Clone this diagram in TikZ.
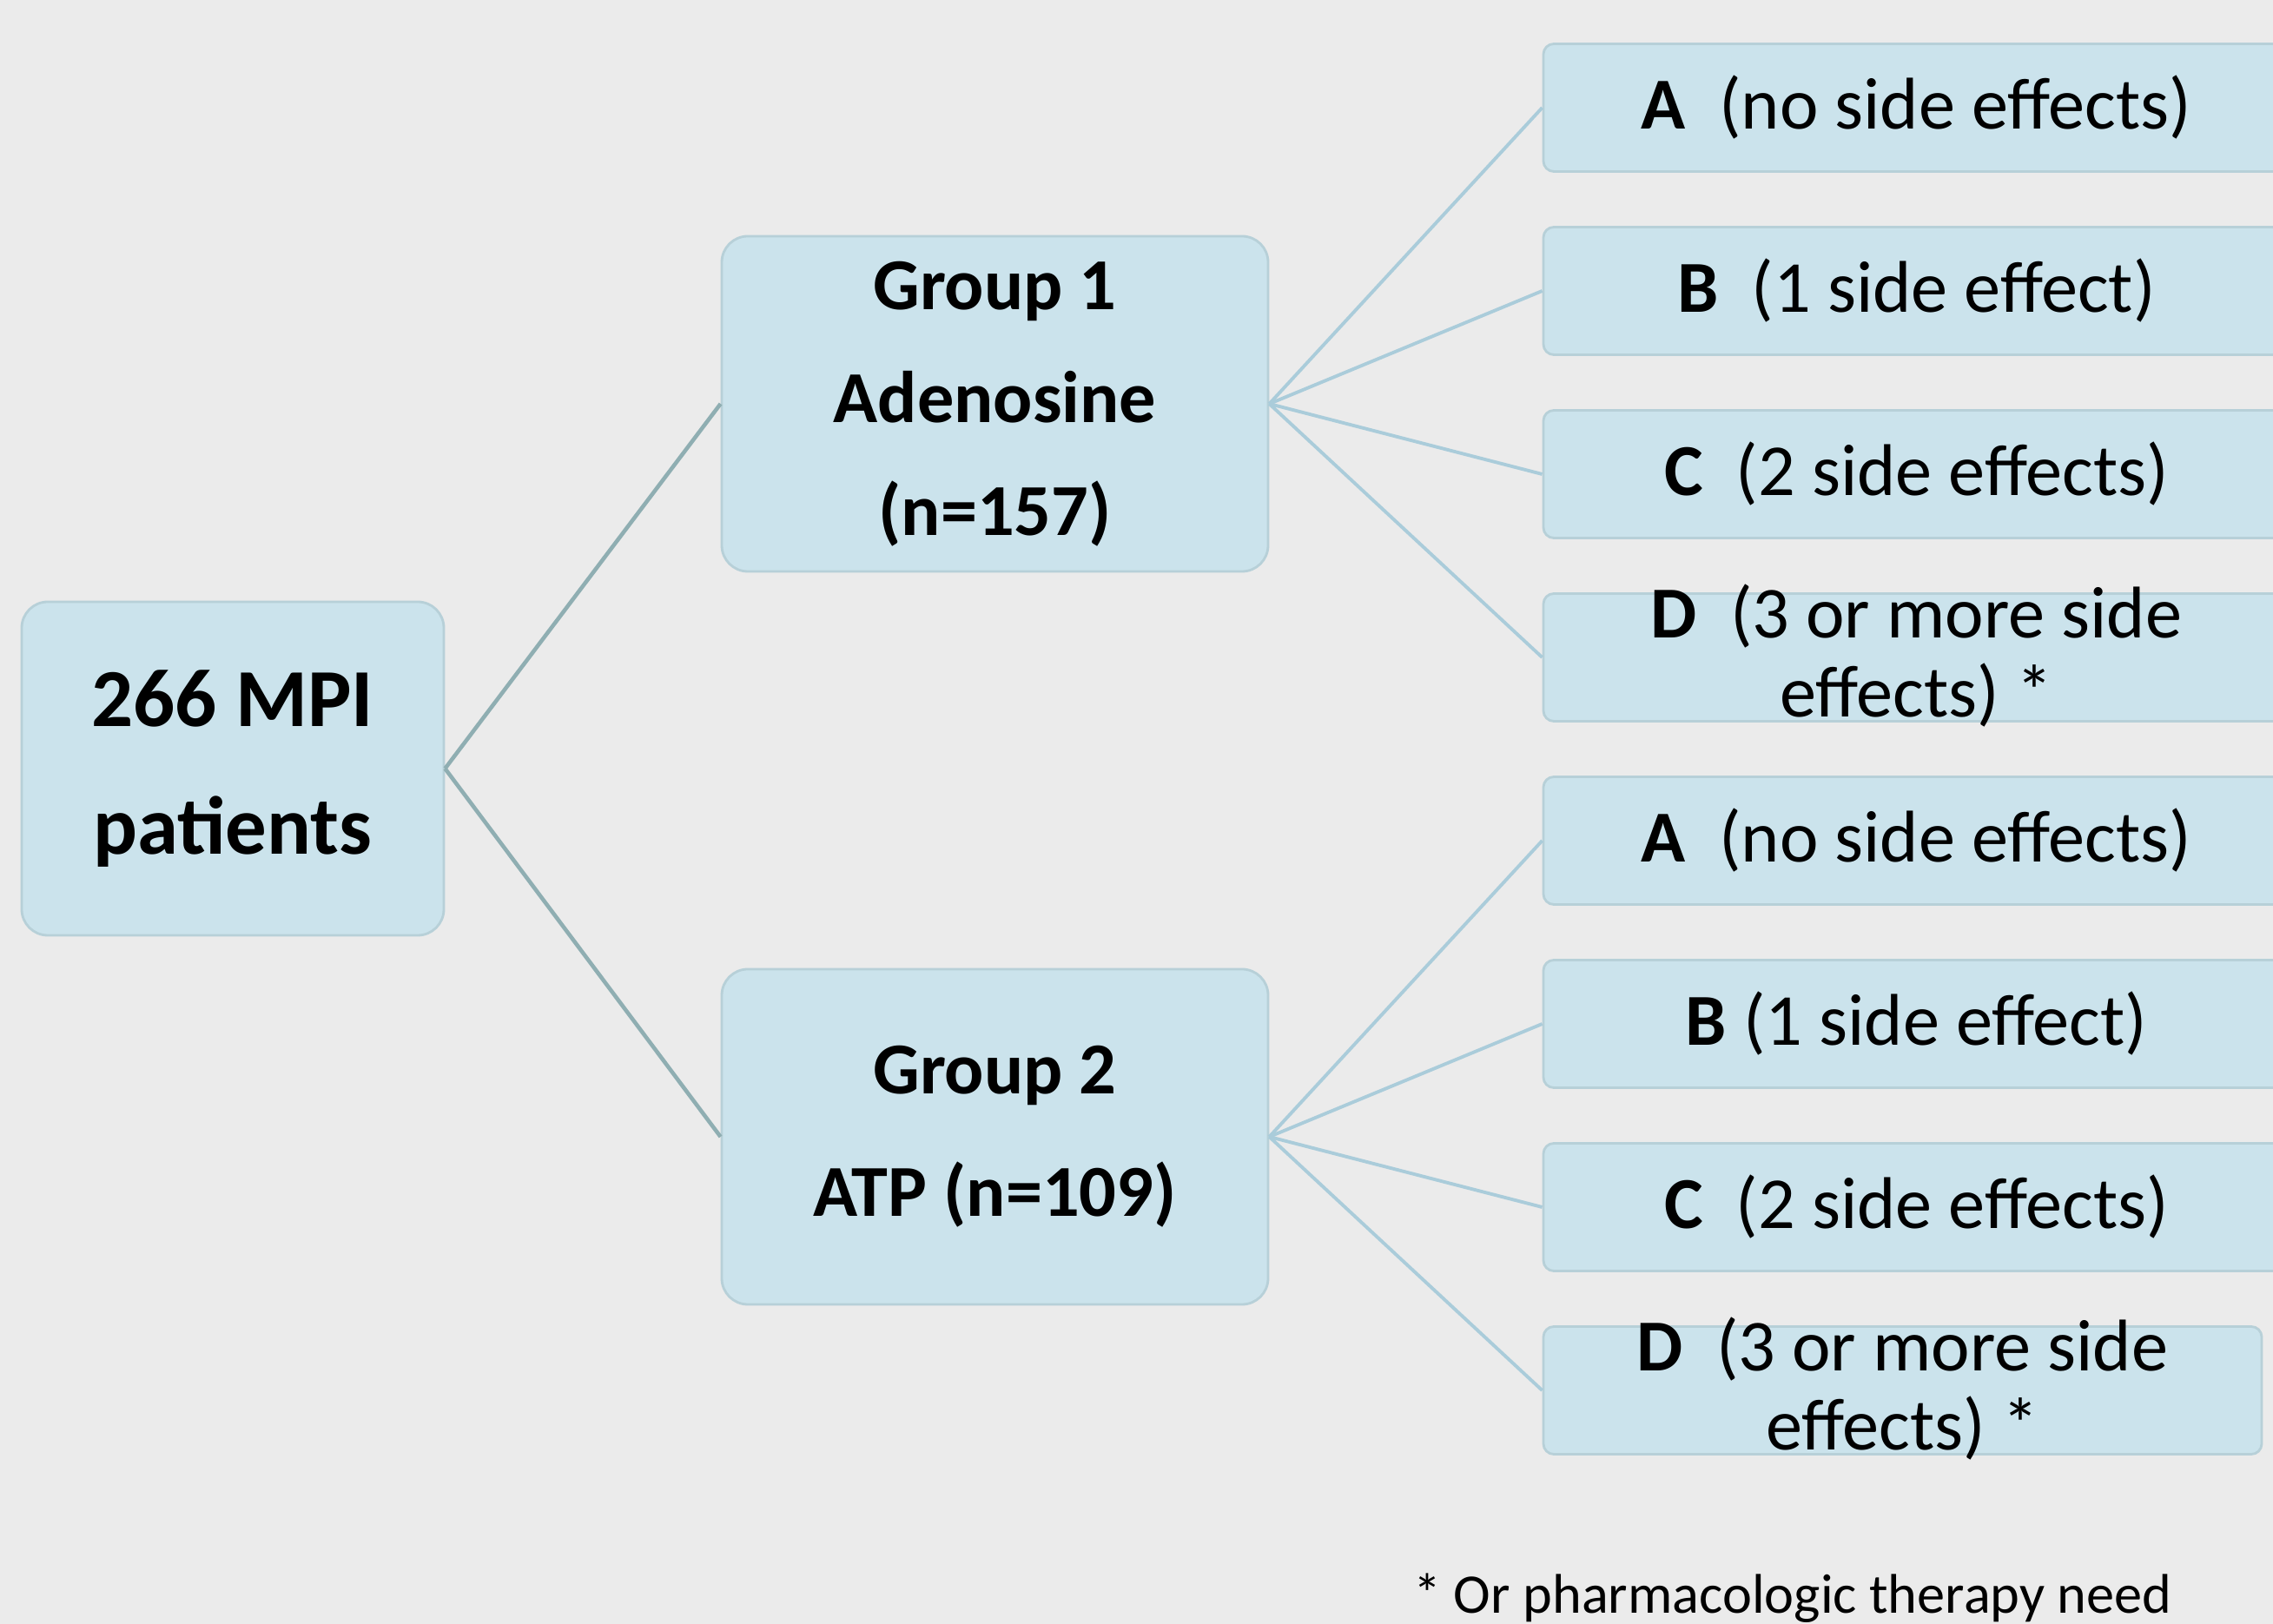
\documentclass[tikz,border=0pt]{standalone}
\usepackage{fontspec}
\setmainfont{Carlito}
\usetikzlibrary{positioning}
\definecolor{boxfill}{RGB}{203,227,236}
\definecolor{boxline}{RGB}{183,208,216}
\definecolor{bgcol}{RGB}{235,235,235}
\definecolor{trunkline}{RGB}{143,174,178}
\definecolor{twigline}{RGB}{170,204,218}

\begin{document}
\begin{tikzpicture}[
  box/.style={draw=boxline, fill=boxfill, line width=0.8pt, rounded corners=0.3cm, align=center, inner sep=0pt},
  rootbox/.style={box, minimum width=4.86cm, minimum height=3.84cm, font=\fontsize{27}{42}\selectfont\bfseries},
  groupbox/.style={box, minimum width=6.29cm, minimum height=3.86cm, font=\fontsize{24}{37}\selectfont\bfseries},
  leaf/.style={box, rounded corners=0.12cm, minimum width=8.59cm, minimum height=1.47cm, font=\fontsize{24}{26}\selectfont},
  tallleaf/.style={leaf, text height=1.42cm, text depth=0.05cm},
  next/.style={below=2.11cm of #1.center, anchor=center},
  trunk/.style={draw=trunkline, line width=1.3pt},
  twig/.style={draw=twigline, line width=1.1pt}
]
\fill[bgcol] (0,0) rectangle (26.17,18.70);
\clip (0,0) rectangle (26.17,18.70);

\node[rootbox] (patients) at (2.68,9.85) {266 MPI\\patients};
\node[groupbox] (adenosine) at (11.455,14.05) {Group 1\\Adenosine\\(n=157)};
\node[groupbox, font=\fontsize{24}{40}\selectfont\bfseries] (atp) at (11.455,5.61) {Group 2\\ATP (n=109)};

% side effect classes
\node[leaf] (adeA) at (22.065,17.46) {\textbf{A}\ \ (no side effects)};
\node[leaf, next=adeA] (adeB) {\textbf{B}\ \ (1 side effect)};
\node[leaf, next=adeB] (adeC) {\textbf{C}\ \ (2 side effects)};
\node[tallleaf, next=adeC] (adeD) {\textbf{D}\ \ (3 or more side\\effects) *};
\node[leaf, next=adeD] (atpA) {\textbf{A}\ \ (no side effects)};
\node[leaf, next=atpA] (atpB) {\textbf{B} (1 side effect)};
\node[leaf, next=atpB] (atpC) {\textbf{C}\ \ (2 side effects)};
\node[tallleaf, next=atpC, xshift=-0.16cm, minimum width=8.27cm] (atpD) {\textbf{D}\ \ (3 or more side\\effects) *};

\node[anchor=base west, font=\fontsize{18.3}{22}\selectfont] (note) at (16.15,0.12) {* Or pharmacologic therapy need};

\draw[trunk] (patients.east) -- (adenosine.west);
\draw[trunk] (patients.east) -- (atp.west);

\draw[twig] (adenosine.east) -- (adeA.west);
\draw[twig] (adenosine.east) -- (adeB.west);
\draw[twig] (adenosine.east) -- (adeC.west);
\draw[twig] (adenosine.east) -- (adeD.west);
\draw[twig] (atp.east) -- (atpA.west);
\draw[twig] (atp.east) -- (atpB.west);
\draw[twig] (atp.east) -- (atpC.west);
\draw[twig] (atp.east) -- (atpD.west);
\end{tikzpicture}
\end{document}
